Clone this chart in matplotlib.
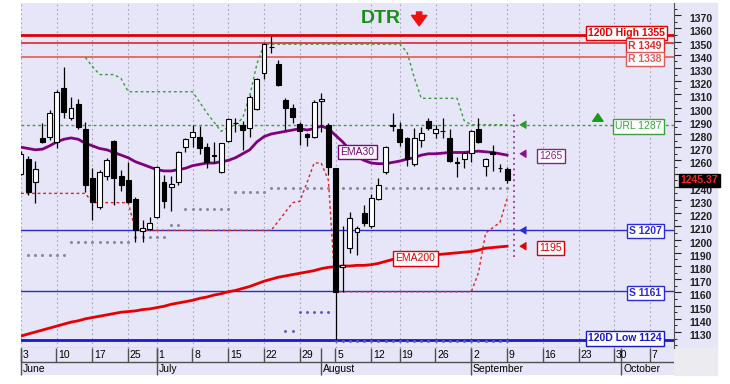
import matplotlib.pyplot as plt
import numpy as np
import pandas as pd
from matplotlib.patches import Rectangle
from matplotlib.transforms import ScaledTranslation, blended_transform_factory

plt.rcParams['font.family'] = ['Liberation Sans', 'DejaVu Sans']

# trading days, no session on 24 June and 15 August
days = pd.bdate_range('2019-06-03', '2019-10-11')
days = days[~days.isin(pd.to_datetime(['2019-06-24', '2019-08-15']))]

# daily candles, 3 June .. 9 September
opens = [1250, 1261, 1243.6, 1277, 1278, 1274, 1315, 1292, 1303, 1284,
         1247, 1225, 1248, 1275, 1248, 1245, 1231, 1206.5, 1208, 1217,
         1244, 1240, 1244, 1270, 1278, 1278, 1270, 1263.5, 1251, 1275,
         1288.5, 1287, 1284.5, 1299, 1326, 1346, 1333, 1306, 1300, 1287.6,
         1280, 1278, 1305, 1287, 1254, 1179, 1194, 1206, 1220, 1210,
         1231, 1251, 1286.5, 1284, 1277, 1257, 1275.5, 1290, 1281, 1282,
         1277, 1258.5, 1261, 1265.6, 1284, 1256, 1266, 1254.5, 1253.5]
highs = [1267, 1263, 1259.5, 1288, 1298, 1313, 1331, 1308, 1306.5, 1289,
         1254, 1253, 1262, 1275.5, 1253, 1259, 1232, 1215, 1217, 1256,
         1249, 1248, 1267, 1277, 1287, 1286, 1273, 1274, 1273.5, 1292,
         1292, 1290, 1309.5, 1322.5, 1349, 1354.5, 1336, 1307, 1302.5, 1289,
         1281, 1306, 1311, 1288, 1254, 1210, 1221, 1210, 1226, 1234.5,
         1247, 1271, 1296, 1289, 1277.5, 1284.5, 1285, 1292, 1287, 1292,
         1284, 1262.6, 1266, 1283, 1292, 1262, 1272, 1257, 1255]
lows = [1249, 1234, 1228, 1273, 1275.5, 1269, 1292, 1290.6, 1284, 1236,
        1215, 1223, 1245, 1226, 1237, 1228, 1198, 1198, 1207, 1216,
        1224, 1222, 1241, 1266, 1270, 1265, 1254, 1258, 1250.5, 1274,
        1281.5, 1268, 1278, 1298, 1322, 1341, 1316, 1283, 1288, 1272,
        1271, 1277, 1281.5, 1249, 1124, 1160, 1190, 1188, 1210.5, 1209,
        1230, 1250, 1282, 1271, 1256, 1256, 1270, 1283, 1277, 1277,
        1259, 1247.6, 1254, 1259, 1273, 1248, 1252, 1251, 1243]
closes = [1265, 1236, 1253.5, 1274, 1296, 1312, 1297, 1300, 1285, 1241,
          1228.5, 1251, 1260, 1247, 1241, 1228.5, 1207, 1209, 1212.6, 1255,
          1229, 1242, 1266, 1276, 1281.5, 1269, 1259, 1264, 1273, 1291,
          1288, 1283, 1308, 1322, 1348, 1345.5, 1317, 1300, 1293, 1282,
          1278, 1304, 1306.5, 1255, 1160.5, 1180.6, 1216, 1209, 1212.6, 1231.5,
          1241, 1270, 1286, 1274, 1261, 1277, 1281, 1284.5, 1284, 1282.5,
          1259.5, 1258, 1265.6, 1282, 1274, 1261, 1265, 1254, 1245.37]

ema30 = [1270, 1269, 1268, 1268.5, 1271, 1274, 1276, 1277, 1276, 1273,
         1271, 1269, 1268, 1266, 1264, 1262, 1259, 1257, 1255, 1253,
         1252, 1252, 1253, 1254, 1256, 1257, 1258, 1258, 1259, 1260,
         1262, 1265, 1268, 1274, 1278, 1280, 1281, 1282, 1283, 1284,
         1283, 1284, 1286, 1284, 1279, 1274, 1268, 1263, 1260, 1258,
         1257.5, 1257.5, 1258.5, 1259.5, 1261, 1262, 1264, 1265, 1265, 1265.5,
         1266, 1266, 1266, 1266.5, 1267, 1266.5, 1266, 1265, 1264]
ema200 = [1127, 1128.5, 1130, 1131.5, 1133, 1134.5, 1136, 1137.5, 1138.5, 1140,
          1141, 1142, 1143, 1144, 1145, 1145.5, 1146, 1147, 1147.5, 1148.5,
          1149.5, 1151, 1152, 1153, 1154, 1155.5, 1156.5, 1158, 1159, 1160.5,
          1161.5, 1163, 1164.5, 1166.5, 1168.5, 1170, 1171.5, 1172.5, 1173.5, 1174.5,
          1175.5, 1176.5, 1178, 1179, 1179.5, 1180, 1180, 1180.5, 1180.5, 1181,
          1182, 1183.5, 1185, 1186, 1186.5, 1187, 1187.5, 1188, 1188.5, 1189,
          1189.5, 1190, 1190.5, 1191, 1192, 1193.5, 1194, 1194.5, 1195]

nan = np.nan
# upper stop (green) and lower stop (red)
stop_up = [nan] * 9 + [1338, 1331, 1325, 1325, 1325, 1322, 1312, 1312, 1312, 1312,
           1312, 1312, 1312, 1312, 1312, 1312, 1304, 1296, 1289, 1282,
           1285, 1287, 1292, 1309, 1333] + [1348] * 20 + [1342, 1323] + [1307] * 6 + [1290] + [1287] * 6
stop_down = [1235] * 10 + [1228] * 6 + [1207] * 20 + [1214, 1221, 1228, 1229, 1243, 1258, 1258, 1245] + \
            [1160.5] * 20 + [1175, 1205, 1209, 1213, 1231]
# daily dots
dots_grey = [nan] + [1188] * 6 + [1198] * 9 + [1202] * 5 + [1211] * 2 + [1223] * 7 + [1236] * 5 + [1239] * 34
dots_blue = [nan] * 37 + [1131, 1131] + [1145] * 5 + [1123.5] * 25

levels = [1355, 1349, 1338, 1287, 1207, 1161, 1124]
level_text = ['120D High 1355', 'R 1349', 'R 1338', 'URL 1287', 'S 1207', 'S 1161', '120D Low 1124']
level_color = ['#e00000', '#e02828', '#e05a5a', '#3aa23a', '#2a2ad8', '#2a2ad8', '#1818cc']
level_width = [2, 1.2, 1.2, 1, 1, 1, 2]
level_bold = [True, True, True, False, True, True, True]
label_shift = [1.3, -2.0, -1.1, -1.3, -0.8, -1.5, 1.1]

lav = '#e6e6f8'
W, H = 730, 384


def box(x0, y0, x1, y1):
    return [x0 / W, 1 - y1 / H, (x1 - x0) / W, (y1 - y0) / H]


fig = plt.figure(figsize=(7.3, 3.84), dpi=100)
fig.patches.append(Rectangle((674 / W, 1 - 348 / H), 43 / W, 345 / H, transform=fig.transFigure,
                             color=lav, zorder=-1))
fig.patches.append(Rectangle((674 / W, 1 - 375 / H), 43 / W, 27 / H, transform=fig.transFigure,
                             color='#ececf0', zorder=-1))

ax = fig.add_axes(box(21, 3, 674, 348))
ax.set_facecolor(lav)
x0, x1 = 0.05, 91.35
ax.set_xlim(x0, x1)
ax.set_ylim(1117.9, 1379.2)

week = [i for i in range(len(days)) if i == 0 or days[i].isocalendar()[1] != days[i - 1].isocalendar()[1]]
month = [i for i in range(len(days)) if i == 0 or days[i].month != days[i - 1].month]

# grid
ax.set_xticks(week)
ax.tick_params(axis='x', length=0, labelbottom=False)
ax.grid(axis='x', color='#a6a6b6', ls=(0, (1.5, 2.5)), lw=0.8)

# levels
tr = blended_transform_factory(ax.transAxes, ax.transData)
for v, t, c, w, b, d in zip(levels, level_text, level_color, level_width, level_bold, label_shift):
    ls = (0, (2, 2)) if t.startswith('URL') else '-'
    ax.axhline(v, color=c, lw=w, ls=ls, zorder=2)
    xr = 0.986 if t.startswith('120D High') else 0.981
    ax.text(xr, v + d, t, transform=tr, ha='right', va='center', fontsize=7.5,
            fontweight='bold' if b else 'normal', color=c, zorder=8,
            bbox=dict(boxstyle='square,pad=0.2', fc='white', ec=c, lw=1))

xs = np.arange(len(opens))
ax.plot(np.arange(len(stop_up)), stop_up, color='#3a9e3a', lw=1, ls=(0, (2, 2)), zorder=2)
ax.plot(np.arange(len(stop_down)), stop_down, color='#e02020', lw=1, ls=(0, (2, 2)), zorder=2)
ax.plot(np.arange(len(dots_grey)), dots_grey, 'o', color='#8a8a9a', ms=1.2, zorder=2)
ax.plot(np.arange(len(dots_blue)), dots_blue, 'o', color='#5a5ad0', ms=1.1, zorder=2)

ax.plot(xs, ema200, color='#e80000', lw=2, zorder=3)
ax.plot(xs, ema30, color='#800080', lw=2, zorder=3)

# candles
o = np.array(opens)
c = np.array(closes)
up = c >= o
ax.vlines(xs, lows, highs, color='black', lw=0.9, zorder=4)
ax.bar(xs, np.maximum(np.abs(c - o), 0.4), bottom=np.minimum(o, c), width=0.68,
       color=np.where(up, 'white', 'black'), edgecolor='black', lw=0.8, zorder=5)

# marker of next session
nxt = len(opens)
ax.vlines(nxt, 1187, 1296, color='#9a309a', lw=1.3, ls=(0, (1, 2)), zorder=3)
for v, col in zip([1287, 1265, 1207, 1195], ['#2a9a2a', '#8a108a', '#2a2ad8', '#e00000']):
    ax.annotate('', xy=(nxt + 0.4, v), xytext=(nxt + 1.6, v),
                arrowprops=dict(arrowstyle='simple,head_width=0.55,head_length=0.45,tail_width=0.18',
                                fc=col, ec=col, lw=0.5), zorder=6)

ax.text(nxt + 3.5, 1263.6, '1265', ha='left', va='center', fontsize=7.5, color='#8a208a', zorder=8,
        bbox=dict(boxstyle='square,pad=0.2', fc='white', ec='#8a208a', lw=1))
ax.text(nxt + 3.5, 1193.5, '1195', ha='left', va='center', fontsize=7.5, color='#e00000', zorder=8,
        bbox=dict(boxstyle='square,pad=0.2', fc='white', ec='#e00000', lw=1))
ax.text(44.7, 1266.4, 'EMA30', ha='left', va='center', fontsize=7.5, color='#800080', zorder=8,
        bbox=dict(boxstyle='square,pad=0.2', fc='white', ec='#800080', lw=1))
ax.text(52.4, 1185.7, 'EMA200', ha='left', va='center', fontsize=7.5, color='#e00000', zorder=8,
        bbox=dict(boxstyle='square,pad=0.2', fc='white', ec='#e00000', lw=1))

# signal
ax.text(50.3, 1367.3, 'DTR', ha='center', va='center', fontsize=14, fontweight='bold', color='#1b8c1b')
ax.annotate('', xy=(55.7, 1359.8), xytext=(55.7, 1374.5),
            arrowprops=dict(arrowstyle='simple,head_width=1.1,head_length=0.75,tail_width=0.38',
                            fc='#f01010', ec='#f01010'))
ax.annotate('', xy=(80.7, 1297.5), xytext=(80.7, 1287.5),
            arrowprops=dict(arrowstyle='simple,head_width=0.75,head_length=0.55,tail_width=0.28',
                            fc='#1a9a1a', ec='#1a9a1a'))

# last price
ax.text(1.0105, closes[-1] - 0.6, '%.2f' % closes[-1], transform=tr, ha='left', va='center',
        fontsize=7.5, fontweight='bold', color='#ff2020', zorder=9, clip_on=False,
        bbox=dict(boxstyle='square,pad=0.15', fc='black', ec='black'))

# right price scale
for s in ['left', 'top']:
    ax.spines[s].set_visible(False)
for s in ['right', 'bottom']:
    ax.spines[s].set_color('#505050')
ax.yaxis.tick_right()
yt = np.arange(1130, 1371, 10)
ax.set_yticks(yt)
ax.set_yticklabels(['' if v == 1250 else str(v) for v in yt])  # 1250 sits under the last price
ax.set_yticks(np.arange(1120, 1380, 5), minor=True)
ax.tick_params(axis='y', which='major', length=5.2, width=0.8, labelsize=7.5, pad=6, colors='#202020')
ax.tick_params(axis='y', which='minor', length=2.5, width=0.7, colors='#202020')
shift = ScaledTranslation(0, -3 / 100, fig.dpi_scale_trans)
for lbl in ax.get_yticklabels():
    lbl.set_fontweight('bold')
    lbl.set_transform(lbl.get_transform() + shift)

# date scale
dax = fig.add_axes(box(21, 348, 674, 375))
dax.set_facecolor(lav)
dax.set_xlim(x0, x1)
dax.set_ylim(0, 27)
dax.set_xticks([])
dax.set_yticks([])
for s in dax.spines.values():
    s.set_visible(False)
dax.axhline(13, color='#505050', lw=1)
for i in week:
    if i > x1:
        continue
    dax.vlines(i, 13, 27, color='#505050', lw=1, clip_on=False)
    dax.text(i + 0.25, 20, str(days[i].day), ha='left', va='center', fontsize=7.5)
for i in month:
    if i > x1:
        continue
    dax.vlines(i, 0, 27, color='#505050', lw=1, clip_on=False)
    dax.text(i + 0.25, 6.5, days[i].strftime('%B'), ha='left', va='center', fontsize=7.5)

fig.savefig('out.png', dpi=100)
